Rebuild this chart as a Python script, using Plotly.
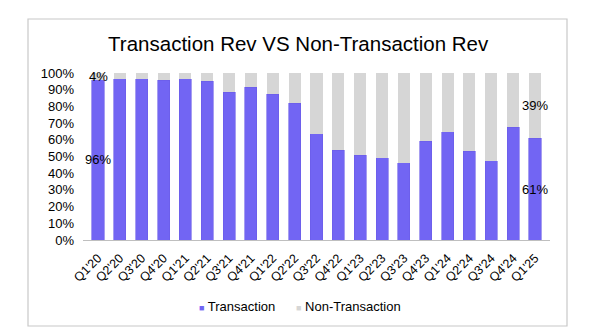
import plotly.graph_objects as go

quarters = ["Q1'20", "Q2'20", "Q3'20", "Q4'20", "Q1'21", "Q2'21", "Q3'21", "Q4'21",
            "Q1'22", "Q2'22", "Q3'22", "Q4'22", "Q1'23", "Q2'23", "Q3'23", "Q4'23",
            "Q1'24", "Q2'24", "Q3'24", "Q4'24", "Q1'25"]
transaction = [96, 96.5, 96.5, 95.6, 96.5, 95.2, 88.6, 91.6, 87.2, 81.8, 63.6,
               53.6, 50.8, 49.4, 46.4, 59.0, 64.8, 53.0, 47.6, 67.4, 61]
non_transaction = [100 - v for v in transaction]
series_names = ["Transaction", "Non-Transaction"]

tx = [v / 100 for v in transaction]
ntx = [v / 100 for v in non_transaction]

PURPLE = "#7265f3"
GREY = "#d6d6d6"
FONT = "Liberation Sans, Arial, sans-serif"

W, H = 600, 336
ML, MR, MT, MB = 83, 50, 73, 96
pw, ph = W - ML - MR, H - MT - MB


def px_x(v):
    """Pixel x -> paper coordinate."""
    return (v - ML) / pw


def px_y(v):
    """Pixel y (from top) -> paper coordinate."""
    return (H - MB - v) / ph


fig = go.Figure()
fig.add_bar(x=quarters, y=tx, name=series_names[0], showlegend=False,
            marker=dict(color=PURPLE, line=dict(color="#6a5ce8", width=0.6)))
fig.add_bar(x=quarters, y=ntx, name=series_names[1], showlegend=False,
            marker=dict(color=GREY, line=dict(width=0)))

# value labels on the first and last quarter, centred in each segment
annotations = []
for i in (0, len(quarters) - 1):
    t, n = tx[i], ntx[i]
    annotations.append(dict(x=quarters[i], y=t / 2, text=f"{round(transaction[i])}%",
                            showarrow=False, font=dict(size=13, color="black", family=FONT)))
    annotations.append(dict(x=quarters[i], y=t + n / 2, text=f"{round(non_transaction[i])}%",
                            showarrow=False, font=dict(size=13, color="black", family=FONT)))

# compact legend: small coloured square followed by the series name
for name, color, x0 in ((series_names[0], PURPLE, 197), (series_names[1], GREY, 294)):
    annotations.append(dict(
        xref="paper", yref="paper", x=px_x(x0), y=px_y(306),
        xanchor="left", yanchor="middle", showarrow=False,
        text=f'<span style="color:{color};font-size:9px">■</span> {name}',
        font=dict(size=13, color="black", family=FONT)))

fig.update_layout(
    width=W, height=H,
    margin=dict(l=ML, r=MR, t=MT, b=MB),
    barmode="stack", bargap=0.45,
    paper_bgcolor="white", plot_bgcolor="white",
    font=dict(family=FONT, color="black"),
    title=dict(text="Transaction Rev VS Non-Transaction Rev", x=0.497, xanchor="center",
               y=1 - 44 / H, yanchor="middle", yref="container",
               font=dict(size=20.5, color="black", family=FONT)),
    xaxis=dict(tickangle=-45, tickfont=dict(size=12.5, color="black"), showline=True,
               linecolor="#bfbfbf", linewidth=1, ticks="", showgrid=False,
               ticklabelstandoff=5),
    yaxis=dict(range=[0, 1], dtick=0.1, tickformat=".0%", tickfont=dict(size=13, color="black"),
               showgrid=False, zeroline=False, showline=False, ticklabelstandoff=8),
    showlegend=False,
    annotations=annotations,
    # outer frame around the whole chart
    shapes=[dict(type="rect", xref="paper", yref="paper",
                 x0=px_x(28), x1=px_x(567), y0=px_y(326), y1=px_y(19),
                 line=dict(color="#c8c8c8", width=1.2), layer="below")],
)

fig.write_html("out.html")
